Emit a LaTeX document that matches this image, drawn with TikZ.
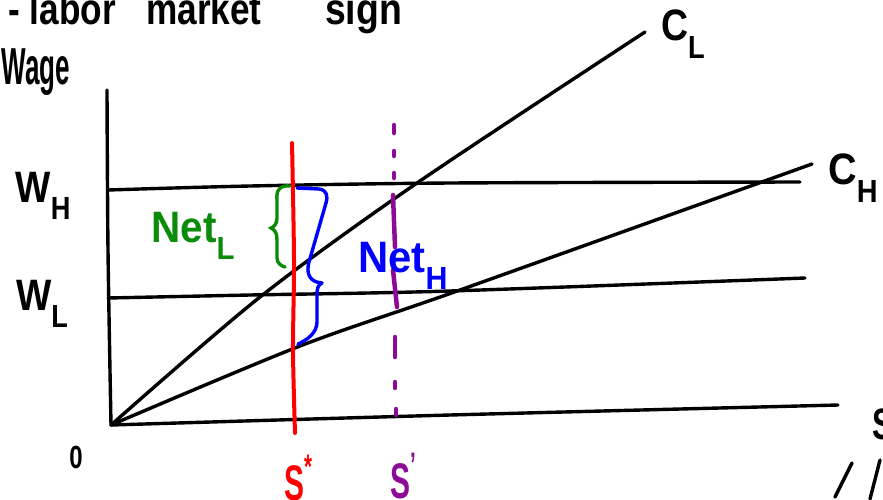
\documentclass[tikz,border=0pt]{standalone}
\usepackage{fontspec}
\setmainfont{Liberation Sans}
\newcommand{\lsub}[1]{\raisebox{-0.4em}{\fontsize{32}{32}\selectfont\bfseries #1}}
\newcommand{\lsup}[1]{\raisebox{0.45em}{\fontsize{34}{34}\selectfont\bfseries #1}}
\newcommand{\hw}[2][0.72]{\scalebox{#1}[1]{#2}}
\definecolor{myred}{RGB}{255,0,0}
\definecolor{mypurple}{RGB}{140,10,150}
\definecolor{mygreen}{RGB}{10,140,10}
\definecolor{myblue}{RGB}{0,0,255}
\begin{document}
\begin{tikzpicture}[x=1pt,y=-1pt,
  ink/.style={line width=3.4pt,line cap=round,line join=round},
  lbl/.style={font=\fontsize{44}{44}\selectfont\bfseries, inner sep=0pt},
  toptxt/.style={font=\fontsize{44}{44}\selectfont\bfseries, inner sep=0pt, anchor=base west}]
\useasboundingbox (0,0) rectangle (883,499);
\clip (0,0) rectangle (883,499);

% cut-off heading
\node[toptxt] (h1) at (8,24) {\hw[0.8]{- labor}};
\node[toptxt] (h2) at (146,24) {\hw[0.8]{market}};
\node[toptxt] (h3) at (325,24) {\hw[0.85]{sign}};

% key points
\coordinate (O) at (111,425);
\coordinate (ytop) at (107,90);
\coordinate (xend) at (838,405);
\coordinate (whL) at (108,190);
\coordinate (whR) at (800,182);
\coordinate (wlL) at (108,298);
\coordinate (wlR) at (805,278);
\coordinate (cl) at (645,32);
\coordinate (ch) at (812,164);

% axes
\draw[ink] plot[smooth] coordinates {(ytop) (108,250) (111,425)};
\draw[ink] plot[smooth] coordinates {(O) (450,415) (xend)};
% wage lines
\draw[ink] plot[smooth] coordinates {(whL) (250,186) (450,183) (whR)};
\draw[ink] plot[smooth] coordinates {(wlL) (250,295) (450,291) (wlR)};
% cost lines
\draw[ink] plot[smooth] coordinates {(O) (260,297) (417,183) (cl)};
\draw[ink] plot[smooth] coordinates {(O) (300,346) (460,290) (ch)};

% S* red line
\draw[myred,line width=4pt,line cap=round] plot[smooth] coordinates {(292,143) (294,260) (293,350) (295,433)};

% S' purple dash-dot line
\begin{scope}[mypurple,line width=4.5pt,line cap=round]
  \draw (394,125) -- (394,133);
  \draw (394,151) -- (394,156);
  \draw (394,173) -- (394,178);
  \draw (393,195) -- (395,247);
  \draw (393,270) -- (397,307);
  \draw (395,337) -- (395,357);
  \draw (395,382) -- (395,388);
  \draw (396,409) -- (396,415);
\end{scope}

% braces
\draw[mygreen,line width=3.4pt,line cap=round]
  (290,186) .. controls (280,185) and (276,190) .. (277,200) -- (277,218)
  .. controls (277,224) and (274,227) .. (271,228)
  .. controls (275,230) and (277,233) .. (277,240) -- (277,258)
  .. controls (277,263) and (281,266) .. (285,267);
\draw[myblue,line width=3.4pt,line cap=round,line join=round]
  (297,188) -- (319,189) .. controls (327,190) and (328,196) .. (326,203) -- (309,262)
  .. controls (306,273) and (309,282) .. (322,283)
  .. controls (318,285) and (317,288) .. (317,295) -- (317,322)
  .. controls (317,333) and (307,340) .. (298,344);

% labels
\node[lbl,font=\fontsize{52}{52}\selectfont\bfseries] (wage) at (36,72) {\hw[0.5]{Wage}};
\node[lbl] (wh) at (43,196) {\hw[0.85]{W\lsub{H}}};
\node[lbl] (wl) at (42,304) {\hw[0.85]{W\lsub{L}}};
\node[lbl,font=\fontsize{32}{32}\selectfont\bfseries] (zero) at (76,457) {\hw[0.75]{0}};
\node[lbl,anchor=west] (cL) at (661,34) {\hw[0.85]{C\lsub{L}}};
\node[lbl,anchor=west] (cH) at (828,178) {\hw[0.9]{C\lsub{H}}};
\node[lbl,anchor=west] (sx) at (872,424) {\hw{S}};
\node[lbl,mygreen] (netl) at (193,236) {\hw[0.92]{Net\lsub{L}}};
\node[lbl,myblue] (neth) at (403,266) {\hw[0.95]{Net\lsub{H}}};
\node[lbl,myred,font=\fontsize{50}{50}\selectfont\bfseries] (sstar) at (298,478) {\hw[0.6]{S\lsup{*}}};
\node[lbl,mypurple,font=\fontsize{50}{50}\selectfont\bfseries] (sprime) at (403,476) {\hw[0.6]{S\lsup{’}}};

% partial marks at bottom right
\coordinate (a1) at (835,497); \coordinate (a2) at (852,463);
\coordinate (b1) at (870,499); \coordinate (b2) at (880,460);
\draw[ink] (a1) -- (a2);
\draw[ink] (b1) -- (b2);
\end{tikzpicture}
\end{document}
